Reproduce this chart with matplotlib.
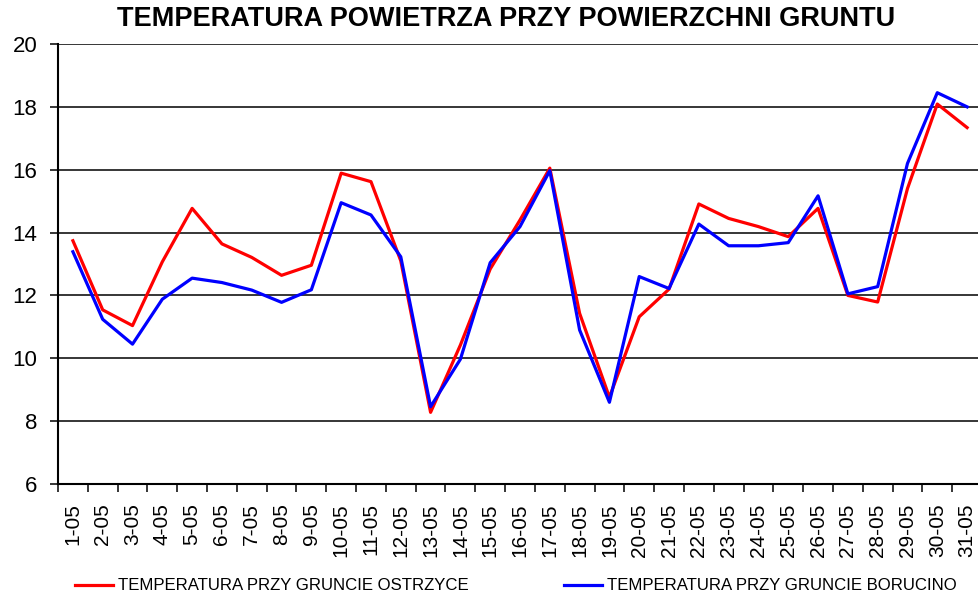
import matplotlib
matplotlib.use('Agg')
import matplotlib.pyplot as plt
import numpy as np

plt.rcParams['font.family'] = ['Liberation Sans', 'DejaVu Sans']

# data
days = [f"{d}-05" for d in range(1, 32)]
ostrzyce = [13.74, 11.54, 11.04, 13.07, 14.77, 13.64, 13.21, 12.64, 12.96, 15.89,
            15.62, 13.10, 8.28, 10.42, 12.84, 14.40, 16.05, 11.43, 8.76, 11.32,
            12.20, 14.91, 14.45, 14.19, 13.87, 14.77, 12.00, 11.79, 15.40, 18.09,
            17.34]
borucino = [13.39, 11.24, 10.45, 11.88, 12.55, 12.41, 12.17, 11.78, 12.18, 14.95,
            14.56, 13.23, 8.46, 9.97, 13.04, 14.19, 15.97, 10.90, 8.60, 12.60,
            12.22, 14.27, 13.58, 13.58, 13.68, 15.17, 12.05, 12.28, 16.20, 18.45,
            18.00]
labels = ["TEMPERATURA PRZY GRUNCIE OSTRZYCE", "TEMPERATURA PRZY GRUNCIE BORUCINO"]
colors = ["#FF0000", "#0000FF"]

fig = plt.figure(figsize=(9.79, 5.98), dpi=100)
ax = fig.add_axes([58 / 979, 114 / 598, 924 / 979, 440 / 598])

x = np.arange(len(days))
l1, = ax.plot(x, ostrzyce, color=colors[0], lw=2.3, label=labels[0])
l2, = ax.plot(x, borucino, color=colors[1], lw=2.3, label=labels[1])

ax.set_xlim(-0.5, len(days) - 0.5)
ax.set_ylim(6, 20)
ax.set_yticks(range(6, 21, 2))
ax.yaxis.grid(True, color='black', lw=1.1)
ax.set_axisbelow(True)

ax.set_xticks(x)
ax.set_xticklabels(days, rotation=90, fontsize=15)
ax.set_xticks(np.arange(-0.5, len(days)), minor=True)
ax.tick_params(axis='x', which='major', length=0, pad=14)
ax.tick_params(axis='x', which='minor', length=6, width=1.1, direction='out')
ax.tick_params(axis='y', labelsize=16, length=6, width=1.1, pad=9)

for s in ['top', 'right']:
    ax.spines[s].set_visible(False)
ax.spines['left'].set_linewidth(1.5)
ax.spines['bottom'].set_linewidth(1.5)

fig.text(506 / 979, 1 - 19 / 598, "TEMPERATURA POWIETRZA PRZY POWIERZCHNI GRUNTU",
         ha='center', va='center', fontsize=19.5, fontweight='bold')

# two legend entries placed where the reference has them
for h, lab, x0 in [(l1, labels[0], 75), (l2, labels[1], 564)]:
    fig.legend([h], [lab], loc='center left', bbox_to_anchor=(x0 / 979, 1 - 586 / 598),
               frameon=False, handlelength=2.25, handletextpad=0.3,
               prop={'size': 12.1}, borderaxespad=0, borderpad=0)

fig.savefig('out.png', dpi=100)
